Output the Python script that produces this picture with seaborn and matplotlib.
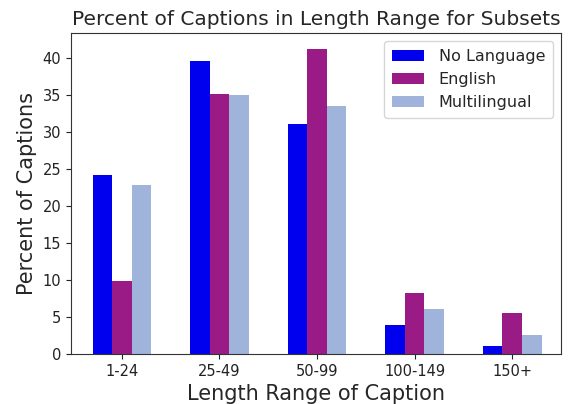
import pandas as pd
import numpy as np
import matplotlib
matplotlib.use('Agg')
import matplotlib.pyplot as plt
import seaborn as sns

# Values
ranges = ['1-24', '25-49', '50-99', '100-149', '150+']
no_language = [24.2, 39.6, 31.1, 3.9, 1.1]
english = [9.8, 35.2, 41.2, 8.2, 5.5]
multilingual = [22.8, 35.0, 33.5, 6.1, 2.5]
subsets = ['No Language', 'English', 'Multilingual']
colors = ['#0000ee', '#9a1a86', '#9fb3db']

df = pd.DataFrame({
    'range': ranges * 3,
    'subset': [s for s in subsets for _ in ranges],
    'pct': no_language + english + multilingual,
})

sns.set_style('ticks')
plt.rcParams['font.family'] = ['DejaVu Sans']

fig = plt.figure(figsize=(5.69, 4.04), dpi=100)
ax = fig.add_axes([0.125, 0.124, 0.861, 0.794])
sns.barplot(data=df, x='range', y='pct', hue='subset', order=ranges,
            hue_order=subsets, palette=colors, width=0.6, saturation=1,
            linewidth=0, ax=ax, errorbar=None)

ax.set_xlim(-0.52, 4.5)
ax.set_ylim(0, 43.4)
ax.set_yticks(np.arange(0, 41, 5))
ax.tick_params(labelsize=10.5, colors='#222222')
for sp in ax.spines.values():
    sp.set_visible(True)
    sp.set_color('#333333')

ax.set_title('Percent of Captions in Length Range for Subsets', fontsize=14.5)
ax.set_xlabel('Length Range of Caption', fontsize=15)
ax.set_ylabel('Percent of Captions', fontsize=15)
ax.legend(title=None, loc='upper right', fontsize=11.5, handlelength=2.0,
          handletextpad=0.9, borderpad=0.5)

fig.savefig('out.png', dpi=100)
